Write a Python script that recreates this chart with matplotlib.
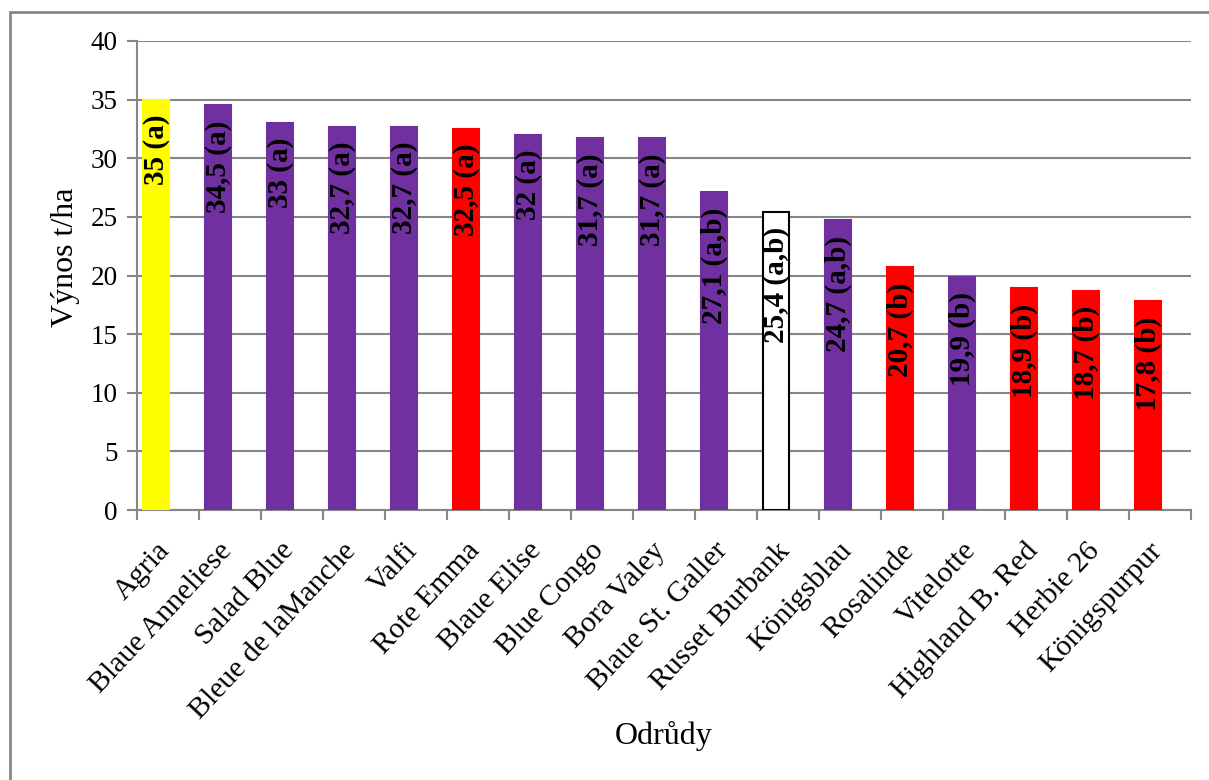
import matplotlib
matplotlib.use("Agg")
import matplotlib.pyplot as plt
from matplotlib.patches import Rectangle
import matplotlib.transforms as mtransforms

varieties = ["Agria", "Blaue Anneliese", "Salad Blue", "Bleue de laManche", "Valfi",
             "Rote Emma", "Blaue Elise", "Blue Congo", "Bora Valey", "Blaue St. Galler",
             "Russet Burbank", "Königsblau", "Rosalinde", "Vitelotte", "Highland B. Red",
             "Herbie 26", "Königspurpur"]
yields = [35, 34.5, 33, 32.7, 32.7, 32.5, 32, 31.7, 31.7, 27.1, 25.4, 24.7,
          20.7, 19.9, 18.9, 18.7, 17.8]
groups = ["a", "a", "a", "a", "a", "a", "a", "a", "a", "a,b", "a,b", "a,b",
          "b", "b", "b", "b", "b"]
flesh = ["yellow", "purple", "purple", "purple", "purple", "red", "purple", "purple",
         "purple", "purple", "white", "purple", "red", "purple", "red", "red", "red"]

palette = {"yellow": "#FFFF00", "purple": "#7030A0", "red": "#FF0000", "white": "#FFFFFF"}
grey = "#868686"

plt.rcParams["font.family"] = ["Liberation Serif", "DejaVu Serif"]

fig = plt.figure(figsize=(12.09, 7.8), dpi=100)
ax = fig.add_axes([137 / 1209, 1 - 510 / 780, 1054 / 1209, 469 / 780])

# outer chart frame (cut off on the right and bottom like the source)
fig.patches.append(Rectangle((10 / 1209, -0.05), 1.2, 1 - 12 / 780 + 0.05,
                             transform=fig.transFigure, fill=False,
                             edgecolor=grey, linewidth=2))

x = list(range(len(varieties)))
# bars sit left of the category centre (empty second series in the source)
bx = [i - 0.2 for i in x]
cols = [palette[c] for c in flesh]
edges = ["black" if c == "white" else palette[c] for c in flesh]
ax.bar(bx, yields, width=0.42, color=cols, edgecolor=edges, linewidth=1.5, zorder=3)

for xi, v, g in zip(bx, yields, groups):
    lab = f"{v:g}".replace(".", ",") + f" ({g})"
    ax.annotate(lab, (xi, v), xytext=(1, -15), textcoords="offset pixels",
                rotation=90, ha="center", va="top", fontsize=21,
                fontweight="bold", zorder=4)

ax.set_xlim(-0.5, len(varieties) - 0.5)
ax.set_ylim(0, 40)
ax.set_yticks(range(0, 41, 5))
ax.yaxis.grid(True, color=grey, linewidth=1.5, zorder=0)
ax.set_axisbelow(True)

ax.set_xticks([i + 0.5 for i in range(-1, len(varieties))], minor=False)
ax.set_xticklabels([])
ax.set_xticks(x, minor=True)
ax.set_xticklabels(varieties, minor=True, rotation=47, ha="right", va="top",
                   fontsize=21.5)
ax.tick_params(axis="x", which="minor", length=0, pad=20)
ax.tick_params(axis="x", which="major", length=7, width=1.5, color=grey)
ax.tick_params(axis="y", length=7, width=1.5, color=grey, labelsize=19.5, pad=7)
shift = mtransforms.ScaledTranslation(7 / 100, 0, fig.dpi_scale_trans)
for t in ax.xaxis.get_minorticklabels():
    t.set_transform(t.get_transform() + shift)

for s in ["top", "right"]:
    ax.spines[s].set_visible(False)
for s in ["left", "bottom"]:
    ax.spines[s].set_color(grey)
    ax.spines[s].set_linewidth(1.5)

ax.set_ylabel("Výnos t/ha", fontsize=23)
ax.yaxis.set_label_coords(-0.054, 0.538)
ax.set_xlabel("Odrůdy", fontsize=23)
ax.xaxis.set_label_coords(0.5, -0.45)

fig.savefig("out.png", dpi=100)
